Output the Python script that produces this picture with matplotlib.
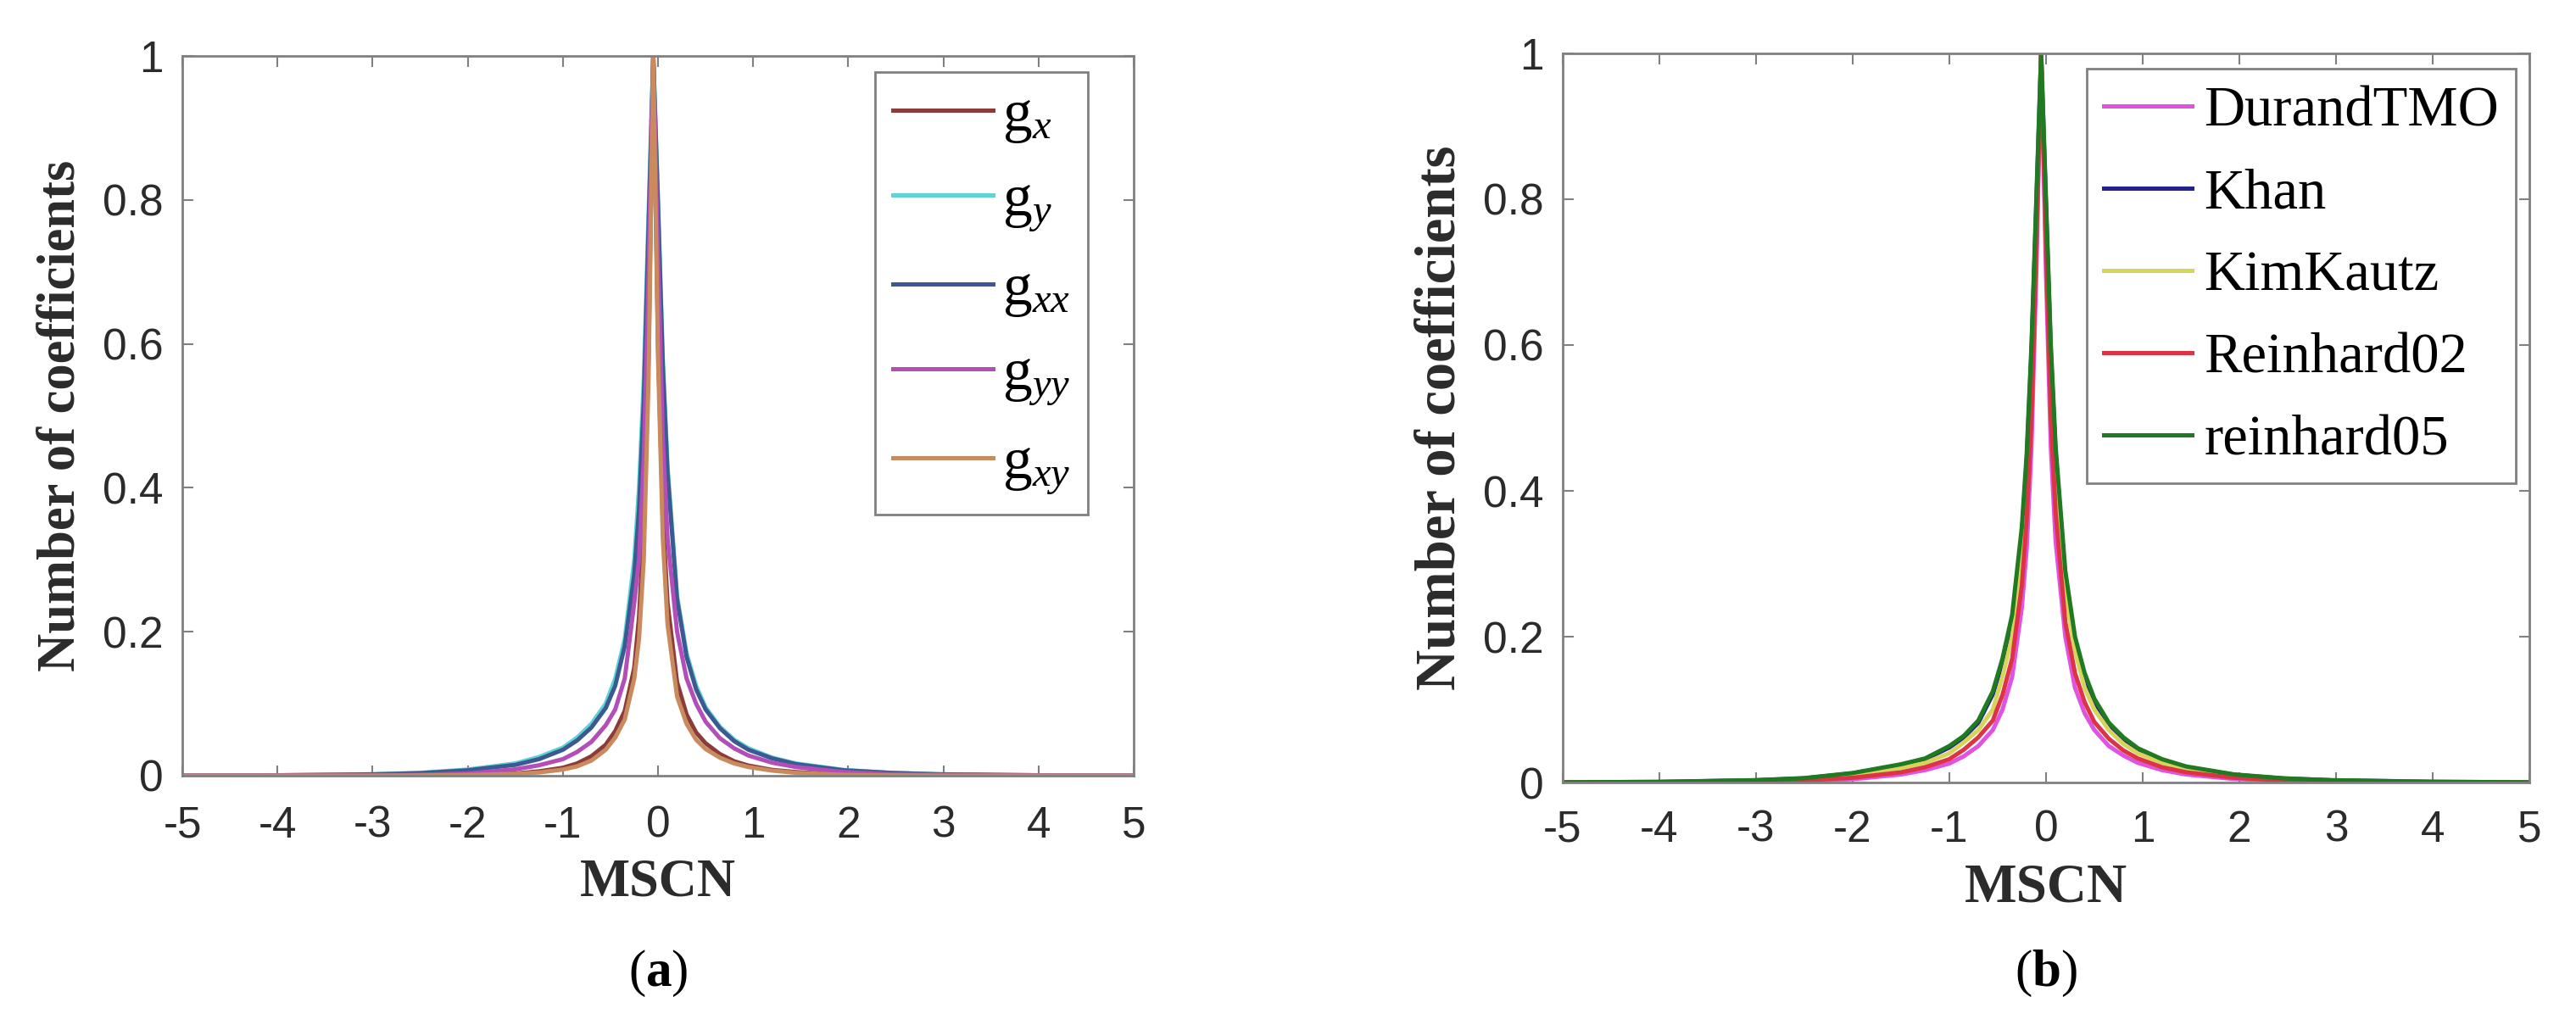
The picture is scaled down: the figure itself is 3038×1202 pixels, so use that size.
import matplotlib
matplotlib.use("Agg")
import matplotlib.pyplot as plt

plt.rcParams['mathtext.fontset'] = 'custom'
plt.rcParams['mathtext.rm'] = 'Liberation Serif'
plt.rcParams['mathtext.it'] = 'Liberation Serif:italic'
plt.rcParams['mathtext.bf'] = 'Liberation Serif:bold'

# MSCN sample positions (same grid for both panels)
mscn = [-5.0, -4.0, -3.0, -2.5, -2.0, -1.5, -1.25, -1.0, -0.85, -0.7, -0.55, -0.45,
        -0.35, -0.25, -0.2, -0.15, -0.1, -0.05, 0.0, 0.05, 0.1, 0.2, 0.3, 0.4, 0.5,
        0.65, 0.8, 0.95, 1.2, 1.45, 1.95, 2.45, 2.95, 4.0, 5.0]

# panel (a): gradient maps
g_x = [0.0, 0.0, 0.0002, 0.0004, 0.0012, 0.003, 0.006, 0.011, 0.017, 0.027, 0.043, 0.062,
       0.09, 0.15, 0.22, 0.34, 0.58, 1.0, 0.6, 0.36, 0.24, 0.13, 0.085, 0.06, 0.045,
       0.03, 0.02, 0.014, 0.008, 0.005, 0.0015, 0.0005, 0.0002, 0.0, 0.0]
g_y = [0.0003, 0.0006, 0.002, 0.004, 0.0085, 0.017, 0.026, 0.039, 0.053, 0.072, 0.10, 0.135,
       0.19, 0.30, 0.40, 0.55, 0.78, 1.0, 0.80, 0.58, 0.43, 0.25, 0.17, 0.125, 0.095,
       0.068, 0.05, 0.038, 0.025, 0.017, 0.008, 0.004, 0.002, 0.0006, 0.0003]
g_xx = [0.0002, 0.0005, 0.0018, 0.0035, 0.0075, 0.015, 0.023, 0.036, 0.049, 0.067, 0.094, 0.125,
        0.18, 0.28, 0.37, 0.52, 0.76, 1.0, 0.79, 0.57, 0.42, 0.245, 0.165, 0.12, 0.092,
        0.066, 0.048, 0.036, 0.024, 0.016, 0.0075, 0.0038, 0.0019, 0.0005, 0.0002]
g_yy = [0.0001, 0.0003, 0.0006, 0.0012, 0.003, 0.0088, 0.0145, 0.023, 0.033, 0.047, 0.07, 0.092,
        0.135, 0.24, 0.30, 0.44, 0.70, 1.0, 0.72, 0.47, 0.33, 0.2, 0.135, 0.1, 0.075,
        0.052, 0.038, 0.028, 0.018, 0.012, 0.005, 0.002, 0.001, 0.0003, 0.0001]
g_xy = [0.0, 0.0, 0.0001, 0.0003, 0.001, 0.0025, 0.0045, 0.0085, 0.013, 0.021, 0.036, 0.053,
        0.078, 0.135, 0.19, 0.30, 0.55, 1.0, 0.58, 0.33, 0.21, 0.11, 0.072, 0.05, 0.037,
        0.025, 0.017, 0.012, 0.007, 0.004, 0.0012, 0.0004, 0.0001, 0.0, 0.0]

# panel (b): tone mapping operators
durand = [0.0001, 0.0003, 0.001, 0.002, 0.0045, 0.011, 0.017, 0.026, 0.036, 0.05, 0.072, 0.10,
          0.145, 0.24, 0.32, 0.46, 0.70, 1.0, 0.70, 0.46, 0.33, 0.2, 0.13, 0.095, 0.072,
          0.05, 0.037, 0.027, 0.017, 0.011, 0.0048, 0.0022, 0.0011, 0.0003, 0.0001]
khan = [0.0003, 0.0008, 0.003, 0.0057, 0.0125, 0.024, 0.032, 0.048, 0.062, 0.082, 0.121, 0.165,
        0.223, 0.34, 0.44, 0.59, 0.79, 1.0, 0.79, 0.59, 0.45, 0.28, 0.194, 0.145, 0.111,
        0.079, 0.06, 0.045, 0.031, 0.021, 0.0105, 0.0055, 0.003, 0.0009, 0.0003]
kimkautz = [0.0002, 0.0006, 0.0022, 0.0042, 0.009, 0.02, 0.027, 0.04, 0.055, 0.072, 0.10, 0.145,
            0.2, 0.31, 0.41, 0.56, 0.77, 1.0, 0.77, 0.56, 0.42, 0.26, 0.18, 0.13, 0.1,
            0.072, 0.053, 0.04, 0.027, 0.018, 0.0085, 0.0045, 0.0024, 0.0007, 0.0002]
reinhard02 = [0.0001, 0.0004, 0.0015, 0.003, 0.0065, 0.014, 0.021, 0.032, 0.045, 0.062, 0.085, 0.12,
              0.17, 0.27, 0.36, 0.50, 0.73, 1.0, 0.73, 0.50, 0.37, 0.22, 0.15, 0.11, 0.083,
              0.06, 0.044, 0.033, 0.021, 0.014, 0.0065, 0.003, 0.0016, 0.0004, 0.0001]
reinhard05 = [0.0003, 0.0009, 0.0032, 0.006, 0.013, 0.025, 0.033, 0.05, 0.064, 0.085, 0.125, 0.17,
              0.23, 0.35, 0.45, 0.60, 0.80, 1.0, 0.80, 0.60, 0.46, 0.29, 0.2, 0.15, 0.115,
              0.082, 0.062, 0.047, 0.032, 0.022, 0.011, 0.0058, 0.0032, 0.001, 0.0003]

labels_a = [r'$\mathrm{g}_{x}$', r'$\mathrm{g}_{y}$', r'$\mathrm{g}_{xx}$',
            r'$\mathrm{g}_{yy}$', r'$\mathrm{g}_{xy}$']
colors_a = ['#8c3b3b', '#5fd3d6', '#3c5a92', '#b34db8', '#c98a5e']
labels_b = ['DurandTMO', 'Khan', 'KimKautz', 'Reinhard02', 'reinhard05']
colors_b = ['#e052e0', '#23238a', '#d6d45a', '#dc3444', '#1f7a22']

xticks = [-5, -4, -3, -2, -1, 0, 1, 2, 3, 4, 5]
yticks = [0, 0.2, 0.4, 0.6, 0.8, 1]
ytick_labels = ['0', '0.2', '0.4', '0.6', '0.8', '1']

fig = plt.figure(figsize=(30.38, 12.02), dpi=100)
ax_a = fig.add_axes([0.0708, 0.2388, 0.3693, 0.7063])
ax_b = fig.add_axes([0.6066, 0.2321, 0.3753, 0.7155])

axis_grey = '#808080'
text_grey = '#2b2b2b'


def style_axes(ax, ylab_size, xlab_size, xpad):
    ax.set_xlim(-5, 5)
    ax.set_ylim(0, 1)
    ax.set_xticks(xticks)
    ax.set_xticklabels([str(t) for t in xticks])
    ax.set_yticks(yticks)
    ax.set_yticklabels(ytick_labels)
    for s in ax.spines.values():
        s.set_color(axis_grey)
        s.set_linewidth(2)
    ax.tick_params(direction='in', length=9, width=1.5, color=axis_grey,
                   top=True, right=True, labelsize=37, labelcolor=text_grey)
    ax.tick_params(axis='x', pad=xpad)
    ax.tick_params(axis='y', pad=16)
    for lab in ax.get_xticklabels() + ax.get_yticklabels():
        lab.set_family('Liberation Sans')
    ax.set_xlabel('MSCN', family='Liberation Serif', weight='bold',
                  size=xlab_size, color=text_grey, labelpad=10)
    ax.set_ylabel('Number of coefficients', family='Liberation Serif', weight='bold',
                  size=ylab_size, color=text_grey, labelpad=14)


# panel (a)
for vals, lab, col in zip([g_x, g_y, g_xx, g_yy, g_xy], labels_a, colors_a):
    ax_a.plot(mscn, vals, color=col, lw=3.6, label=lab, solid_joinstyle='round')
style_axes(ax_a, 45, 45, 25)
leg_a = ax_a.legend(loc='upper right', bbox_to_anchor=(0.952, 0.978), borderaxespad=0,
                    prop={'family': 'Liberation Serif', 'size': 50},
                    handlelength=1.7, handletextpad=0.16, labelspacing=0.5,
                    borderpad=0.3, fancybox=False, framealpha=1)
leg_a.get_frame().set_edgecolor(axis_grey)
leg_a.get_frame().set_linewidth(2)

# panel (b)
for vals, lab, col in zip([durand, khan, kimkautz, reinhard02, reinhard05], labels_b, colors_b):
    ax_b.plot(mscn, vals, color=col, lw=3.6, label=lab, solid_joinstyle='round')
style_axes(ax_b, 48, 47, 23)
leg_b = ax_b.legend(loc='upper right', bbox_to_anchor=(0.986, 0.979), borderaxespad=0,
                    prop={'family': 'Liberation Serif', 'size': 48},
                    handlelength=1.55, handletextpad=0.22, labelspacing=0.54,
                    borderpad=0.3, fancybox=False, framealpha=1)
leg_b.get_frame().set_edgecolor(axis_grey)
leg_b.get_frame().set_linewidth(2)

# sub-figure captions
fig.text(0.2555, 0.045, r'($\mathbf{a}$)', ha='center', va='center',
         family='Liberation Serif', size=44, color='black')
fig.text(0.7942, 0.045, r'($\mathbf{b}$)', ha='center', va='center',
         family='Liberation Serif', size=44, color='black')

fig.savefig('out.png', dpi=100, facecolor='white')
